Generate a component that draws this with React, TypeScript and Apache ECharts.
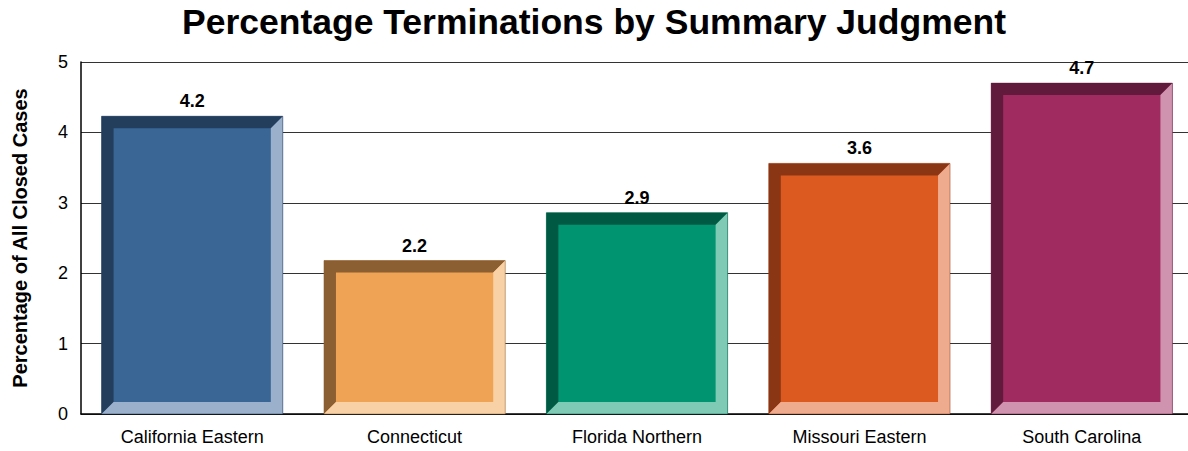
import React, { useEffect, useRef } from "react";
import * as echarts from "echarts";

const titleText = "Percentage Terminations by Summary Judgment";
const yAxisName = "Percentage of All Closed Cases";
const categories = ["California Eastern", "Connecticut", "Florida Northern", "Missouri Eastern", "South Carolina"];
const values = [4.23, 2.18, 2.86, 3.56, 4.7];
const faceColors = ["#3A6696", "#EFA354", "#009470", "#DC5A1F", "#A02B60"];
const darkColors = ["#233D5C", "#8C5F33", "#005A43", "#8A3615", "#611A3B"];
const lightColors = ["#9AB0CB", "#F8D1A7", "#7FCAB4", "#EEAB8D", "#D093AF"];

const FONT = "'Liberation Sans', Arial, Helvetica, sans-serif";

export default function App() {
  const ref = useRef<HTMLDivElement>(null);
  useEffect(() => {
    if (!ref.current) return;
    const chart = echarts.init(ref.current, null, { renderer: "svg" });
    chart.setOption({
      animation: false,
      backgroundColor: "#ffffff",
      graphic: [
        {
          type: "text",
          x: 594,
          y: 22,
          style: {
            text: titleText,
            align: "center",
            verticalAlign: "middle",
            fontFamily: FONT,
            fontSize: 35.5,
            fontWeight: "bold",
            fill: "#000",
          },
        },
      ],
      grid: { left: 81, top: 62, width: 1112, bottom: 37, containLabel: false },
      xAxis: {
        type: "category",
        data: categories,
        axisLine: { show: true, lineStyle: { color: "#000", width: 1.5 } },
        axisTick: { show: false },
        axisLabel: { fontFamily: FONT, fontSize: 18, color: "#000", margin: 14, interval: 0 },
        splitLine: { show: false },
      },
      yAxis: {
        type: "value",
        min: 0,
        max: 5,
        interval: 1,
        name: yAxisName,
        nameLocation: "middle",
        nameGap: 51,
        nameTextStyle: { fontFamily: FONT, fontSize: 20, fontWeight: "bold", color: "#000" },
        axisLine: { show: true, lineStyle: { color: "#000", width: 1.5 } },
        axisTick: { show: false },
        axisLabel: { fontFamily: FONT, fontSize: 18, color: "#000", margin: 13 },
        splitLine: { show: true, lineStyle: { color: "#333", width: 1 } },
      },
      series: [
        {
          type: "custom",
          clip: false,
          encode: { x: 0, y: 1 },
          data: categories.map((c, i) => [i, values[i]]),
          renderItem: (params: any, api: any) => {
            const i = params.dataIndex;
            const v = api.value(1);
            const top = api.coord([api.value(0), v]);
            const base = api.coord([api.value(0), 0]);
            const bw = api.size([1, 0])[0] * 0.815;
            const x0 = top[0] - bw / 2;
            const x1 = top[0] + bw / 2;
            const y0 = top[1];
            const y1 = base[1];
            const b = 12;
            return {
              type: "group",
              children: [
                {
                  type: "rect",
                  shape: { x: x0, y: y0, width: bw, height: y1 - y0 },
                  style: { fill: faceColors[i] },
                },
                {
                  type: "polygon",
                  shape: {
                    points: [
                      [x0, y0],
                      [x1, y0],
                      [x1 - b, y0 + b],
                      [x0 + b, y0 + b],
                      [x0 + b, y1 - b],
                      [x0, y1],
                    ],
                  },
                  style: { fill: darkColors[i] },
                },
                {
                  type: "polygon",
                  shape: {
                    points: [
                      [x1, y0],
                      [x1, y1],
                      [x0, y1],
                      [x0 + b, y1 - b],
                      [x1 - b, y1 - b],
                      [x1 - b, y0 + b],
                    ],
                  },
                  style: { fill: lightColors[i] },
                },
                {
                  type: "rect",
                  shape: { x: x0, y: y0, width: bw, height: y1 - y0 },
                  style: { fill: "none", stroke: darkColors[i], lineWidth: 0.8, opacity: 0.6 },
                },
                {
                  type: "text",
                  style: {
                    text: v.toFixed(1),
                    x: top[0],
                    y: y0 - 15,
                    align: "center",
                    verticalAlign: "middle",
                    fontFamily: FONT,
                    fontSize: 18,
                    fontWeight: "bold",
                    fill: "#000",
                  },
                },
              ],
            };
          },
        },
      ],
    });
    return () => chart.dispose();
  }, []);
  return (
    <div style={{ position: "absolute", left: 0, top: 0, width: 1188, height: 451, overflow: "hidden" }}>
      <div ref={ref} style={{ width: 1200, height: 451 }} />
    </div>
  );
}
